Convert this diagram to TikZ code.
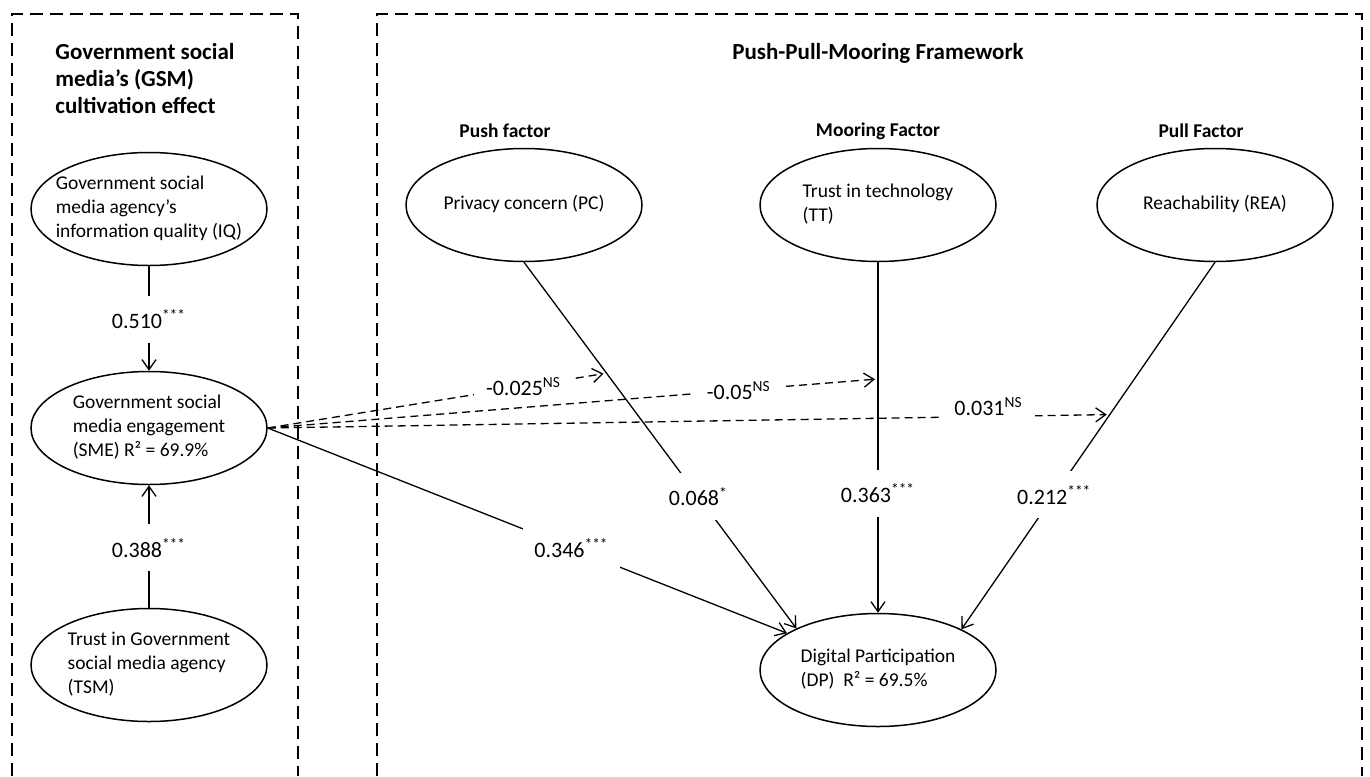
\documentclass[tikz,border=0pt]{standalone}
\usepackage{fontspec}
\setmainfont{Carlito}
\usetikzlibrary{shapes.geometric,arrows.meta}
\newcommand{\ctext}[1]{\makebox[0pt]{\begin{tabular}{@{}l@{}}#1\end{tabular}}}
\begin{document}
\begin{tikzpicture}[x=0.5pt,y=-0.5pt,
  elli/.style={ellipse,draw,line width=0.75pt,minimum width=118pt,minimum height=56.5pt,inner sep=0pt,font=\fontsize{9.75}{12}\selectfont},
  boxframe/.style={line width=1.1pt,dash pattern=on 6.5pt off 3.5pt},
  conn/.style={line width=0.65pt,-{Straight Barb[length=5pt,width=7pt]}},
  dconn/.style={conn,dash pattern=on 4pt off 2.5pt,shorten >=1.5pt},
  lab/.style={fill=white,font=\fontsize{11}{13}\selectfont,inner xsep=5.5pt,inner ysep=7pt},
  nslab/.style={fill=white,font=\fontsize{11}{13}\selectfont,inner xsep=6pt,inner ysep=3pt},
  head/.style={font=\bfseries\fontsize{11.5}{13.5}\selectfont,inner sep=0pt},
  fac/.style={font=\bfseries\fontsize{9.75}{12}\selectfont,inner sep=0pt}
]
\fill[white] (0,0) rectangle (1370,776);
\useasboundingbox (0,0) rectangle (1370,776);

% frames
\draw[boxframe] (12,776) -- (12,14) -- (298,14) -- (298,776);
\draw[boxframe] (377,776) -- (377,14) -- (1362,14) -- (1362,776);

% headings
\node[head,anchor=west] (gsmtitle) at (55,81) {\begin{tabular}{@{}l@{}}Government social\\media’s (GSM)\\cultivation effect\end{tabular}};
\node[head] (ppm) at (878,53) {Push-Pull-Mooring Framework};
\node[fac] (pushf) at (505,131) {Push factor};
\node[fac] (moorf) at (878,131) {Mooring Factor};
\node[fac] (pullf) at (1201,131) {Pull Factor};

% constructs
\node[elli] (IQ) at (149,209) {\ctext{Government social\\media agency’s\\information quality (IQ)}};
\node[elli] (SME) at (149,428) {\ctext{Government social\\media engagement\\(SME) R² = 69.9\%}};
\node[elli] (TSM) at (149,665) {\ctext{Trust in Government\\social media agency\\(TSM)}};
\node[elli] (PC) at (524,205) {\ctext{Privacy concern (PC)}};
\node[elli] (TT) at (878,205) {\ctext{Trust in technology\\(TT)}};
\node[elli] (REA) at (1215,205) {\ctext{Reachability (REA)}};
\node[elli] (DP) at (878,670) {\ctext{Digital Participation\\(DP)\ \ R² = 69.5\%}};

% solid paths
\draw[conn] (IQ) -- node[lab,pos=0.51] (l510) {0.510\textsuperscript{***}} (SME);
\draw[conn] (TSM) -- node[lab,pos=0.49] (l388) {0.388\textsuperscript{***}} (SME);
\draw[conn] (SME.east) -- node[lab,pos=0.585] (l346) {0.346\textsuperscript{***}} (DP.158);
\draw[conn] (PC.south) -- node[lab,pos=0.64] (l068) {0.068\textsuperscript{*}} coordinate[pos=0.303] (pcx) (DP.153);
\draw[conn] (TT) -- node[lab,pos=0.66] (l363) {0.363\textsuperscript{***}} coordinate[pos=0.333] (ttx) (DP);
\draw[conn] (REA.south) -- node[lab,pos=0.634] (l212) {0.212\textsuperscript{***}} coordinate[pos=0.415] (reax) (DP.26);

% moderating (dashed) paths
\draw[dconn] (SME.east) -- node[nslab,pos=0.755] (l025) {-0.025\textsuperscript{NS}} (pcx);
\draw[dconn] (SME.east) -- node[nslab,pos=0.772] (l05) {-0.05\textsuperscript{NS}} (ttx);
\draw[dconn] (SME.east) -- node[nslab,pos=0.856,yshift=5pt] (l031) {0.031\textsuperscript{NS}} (reax);
\end{tikzpicture}
\end{document}
